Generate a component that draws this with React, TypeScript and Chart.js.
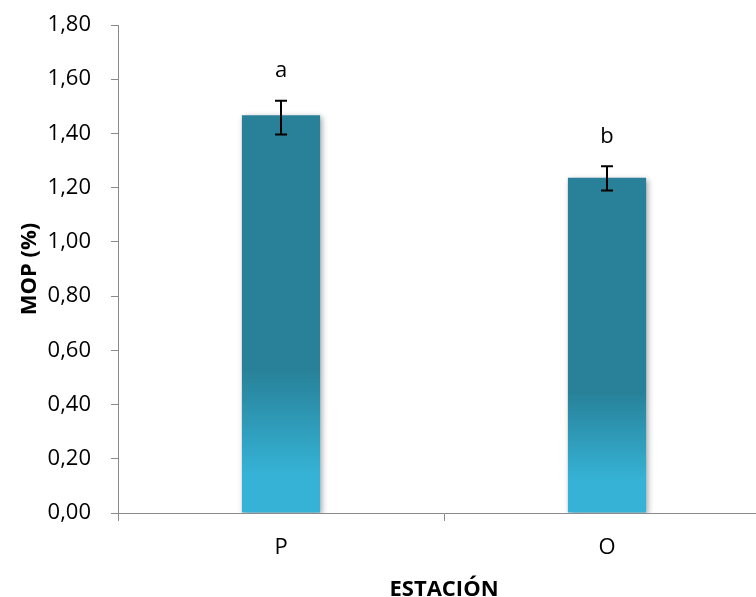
import React, { useEffect, useRef } from "react";
import { Chart, registerables } from "chart.js";

Chart.register(...registerables);

// Season categories and measured MOP values
const categories = ["P", "O"];
const mopMeans = [1.467, 1.237];
const errLower = [1.396, 1.19];
const errUpper = [1.521, 1.279];
const groupLetters = ["a", "b"];

const yMin = 0;
const yMax = 1.8;
const yStep = 0.2;

const DARK = "rgb(40,129,153)";
const LIGHT = "rgb(53,178,213)";
const AXIS = "#8a8a8a";
const FONT = "'Open Sans', sans-serif";

// Vertical gradient per bar: dark teal on top fading to light cyan near the base
function barGradient(context: any) {
  const chart = context.chart;
  const yScale = chart.scales?.y;
  if (!yScale || context.raw == null) return DARK;
  const top = yScale.getPixelForValue(context.raw);
  const bottom = yScale.getPixelForValue(0);
  if (!isFinite(top) || !isFinite(bottom) || bottom - top < 1) return DARK;
  const g = chart.ctx.createLinearGradient(0, top, 0, bottom);
  g.addColorStop(0, DARK);
  g.addColorStop(0.64, DARK);
  g.addColorStop(0.9, LIGHT);
  g.addColorStop(1, LIGHT);
  return g;
}

// Soft drop shadow under the bars
const barShadow = {
  id: "barShadow",
  beforeDatasetDraw(chart: any) {
    const ctx = chart.ctx;
    ctx.save();
    ctx.shadowColor = "rgba(0,0,0,0.35)";
    ctx.shadowBlur = 6;
    ctx.shadowOffsetX = 2;
    ctx.shadowOffsetY = 2;
  },
  afterDatasetDraw(chart: any) {
    chart.ctx.restore();
  },
};

// Error bars with caps plus significance letters above them
const errorBars = {
  id: "errorBars",
  afterDatasetsDraw(chart: any) {
    const ctx = chart.ctx;
    const yScale = chart.scales.y;
    const meta = chart.getDatasetMeta(0);
    ctx.save();
    meta.data.forEach((bar: any, i: number) => {
      const x = bar.x;
      const yHi = yScale.getPixelForValue(errUpper[i]);
      const yLo = yScale.getPixelForValue(errLower[i]);
      const cap = 6;
      ctx.strokeStyle = "#000";
      ctx.lineWidth = 2;
      ctx.beginPath();
      ctx.moveTo(x, yHi);
      ctx.lineTo(x, yLo);
      ctx.moveTo(x - cap, yHi);
      ctx.lineTo(x + cap, yHi);
      ctx.moveTo(x - cap, yLo);
      ctx.lineTo(x + cap, yLo);
      ctx.stroke();
      ctx.fillStyle = "#000";
      ctx.font = `22px ${FONT}`;
      ctx.textAlign = "center";
      ctx.textBaseline = "middle";
      ctx.fillText(groupLetters[i], x, yHi - 30);
    });
    ctx.restore();
  },
};

export default function App() {
  const canvasRef = useRef<HTMLCanvasElement | null>(null);

  useEffect(() => {
    if (!canvasRef.current) return;
    const chart = new Chart(canvasRef.current, {
      type: "bar",
      data: {
        labels: categories,
        datasets: [
          {
            data: mopMeans,
            backgroundColor: barGradient,
            borderWidth: 0,
            barPercentage: 0.48,
            categoryPercentage: 0.5,
          },
        ],
      },
      options: {
        responsive: false,
        animation: false,
        devicePixelRatio: 1,
        layout: { padding: { top: 25, right: 0, bottom: 0, left: 0 } },
        plugins: {
          legend: { display: false },
          tooltip: { enabled: false },
        },
        scales: {
          x: {
            z: 1,
            grid: {
              display: true,
              drawOnChartArea: false,
              drawTicks: true,
              tickLength: 8,
              color: AXIS,
              offset: true,
            },
            border: { display: true, color: AXIS, width: 1 },
            ticks: {
              color: "#000",
              padding: 14,
              font: { family: FONT, size: 22 },
            },
            title: {
              display: true,
              text: "ESTACIÓN",
              color: "#000",
              font: { family: FONT, size: 22, weight: "bold", lineHeight: 0.8 },
              padding: { top: 0, bottom: -2 },
            },
            afterFit(scale: any) {
              scale.height = 84;
              scale.paddingTop = 0;
              scale.paddingLeft = 0;
              scale.paddingRight = 0;
            },
          },
          y: {
            min: yMin,
            max: yMax,
            grid: {
              display: true,
              drawOnChartArea: false,
              drawTicks: true,
              tickLength: 7,
              color: AXIS,
            },
            border: { display: true, color: AXIS, width: 1 },
            ticks: {
              stepSize: yStep,
              color: "#000",
              padding: 20,
              font: { family: FONT, size: 22 },
              callback: (v: any) => Number(v).toFixed(2).replace(".", ","),
            },
            title: {
              display: true,
              text: "MOP (%)",
              color: "#000",
              font: { family: FONT, size: 22, weight: "bold", lineHeight: 0.8 },
              padding: { top: 21, bottom: 0 },
            },
            afterFit(scale: any) {
              scale.width = 118;
              scale.paddingTop = 0;
              scale.paddingBottom = 0;
            },
          },
        },
      },
      plugins: [barShadow, errorBars],
    });
    return () => chart.destroy();
  }, []);

  return (
    <div
      style={{
        position: "fixed",
        left: 0,
        top: 0,
        width: 756,
        height: 597,
        overflow: "hidden",
        background: "#fff",
      }}
    >
      <canvas ref={canvasRef} width={770} height={597} />
    </div>
  );
}
